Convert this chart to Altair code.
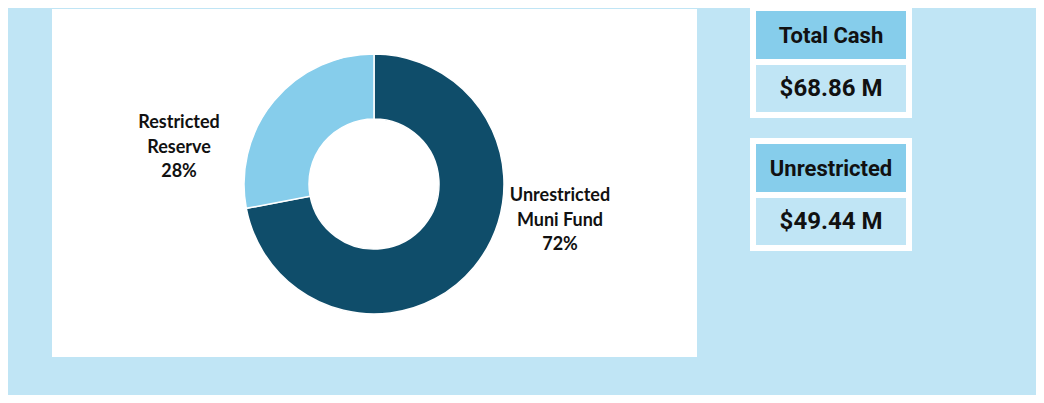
import altair as alt
import pandas as pd

# ---- data ----
categories = ["Unrestricted Muni Fund", "Restricted Reserve"]
shares = [72, 28]
label_lines = ["Unrestricted\nMuni Fund", "Restricted\nReserve"]
card_titles = ["Total Cash", "Unrestricted"]
card_values = ["$68.86 M", "$49.44 M"]

df = pd.DataFrame({
    "category": categories,
    "share": shares,
    "order": list(range(len(categories))),
    "label": [f"{l}\n{s}%" for l, s in zip(label_lines, shares)],
})
cards = pd.DataFrame({"idx": list(range(len(card_titles))), "title": card_titles, "value": card_values})

BG = "#C0E5F5"
DARK = "#0F4D6A"
LIGHT = "#86CDEB"
HEAD = "#86CDEB"
TXT = "#111111"

W, H = 1028, 387
one = pd.DataFrame({"a": [0]})

panel = alt.Chart(one).mark_rect(color="white").encode(
    x=alt.value(44), x2=alt.value(689), y=alt.value(1), y2=alt.value(349)
)

donut = alt.Chart(df).mark_arc(outerRadius=130, innerRadius=65, stroke="white", strokeWidth=1.5).encode(
    theta=alt.Theta("share:Q", stack=True),
    order=alt.Order("order:Q"),
    color=alt.Color("category:N", scale=alt.Scale(domain=categories, range=[DARK, LIGHT]), legend=None),
    x=alt.value(366), y=alt.value(176),
)

def label_layer(cat, px, py):
    return alt.Chart(df).transform_filter(alt.datum.category == cat).mark_text(
        font="Lato", fontWeight="bold", fontSize=18, lineBreak="\n", lineHeight=24.5,
        align="center", baseline="middle", color=TXT,
    ).encode(text="label:N", x=alt.value(px), y=alt.value(py))

lab_u = label_layer(categories[0], 552, 188)
lab_r = label_layer(categories[1], 171, 115)

card_layers = []
tops = [-3, 130]
for i, top in enumerate(tops):
    base = alt.Chart(cards).transform_filter(alt.datum.idx == i)
    card_layers += [
        base.mark_rect(color="white").encode(x=alt.value(742), x2=alt.value(904), y=alt.value(top), y2=alt.value(top + 113)),
        base.mark_rect(color=HEAD).encode(x=alt.value(748), x2=alt.value(898), y=alt.value(top + 6), y2=alt.value(top + 54)),
        base.mark_rect(color=BG).encode(x=alt.value(748), x2=alt.value(898), y=alt.value(top + 60), y2=alt.value(top + 107)),
        base.mark_text(font="Roboto", fontWeight="bold", fontSize=22, color=TXT, align="center", baseline="middle").encode(
            text="title:N", x=alt.value(823), y=alt.value(top + 31)),
        base.mark_text(font="Roboto", fontWeight="bold", fontSize=24, color=TXT, align="center", baseline="middle").encode(
            text="value:N", x=alt.value(823), y=alt.value(top + 84)),
    ]

chart = alt.layer(panel, donut, lab_u, lab_r, *card_layers).properties(
    width=W, height=H, background=BG, padding=0,
    autosize=alt.AutoSizeParams(type="none"),
).configure_view(stroke=None)

chart.save("out.html", embed_options={"renderer": "svg", "actions": False})
